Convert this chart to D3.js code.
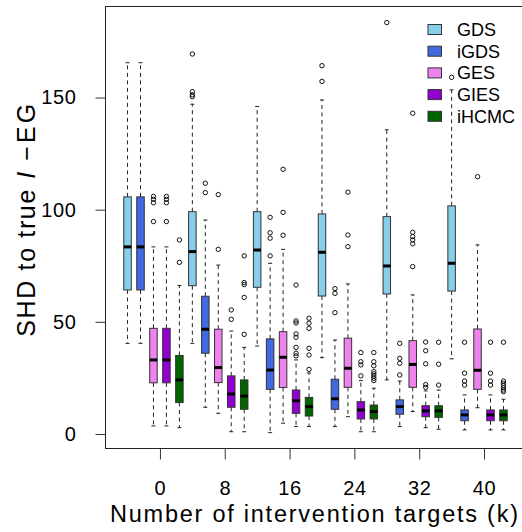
<!DOCTYPE html>
<html>
<head>
<meta charset="utf-8">
<script src="https://cdn.jsdelivr.net/npm/d3@7/dist/d3.min.js"></script>
<style>
  body { margin: 0; background: #fff; }
  svg { font-family: "Liberation Sans", Arial, sans-serif; }
</style>
</head>
<body>
<div id="chart"></div>
<script>
var methods = ["GDS", "iGDS", "GES", "GIES", "iHCMC"];
var kValues = [0, 8, 16, 24, 32, 40];
var yTicks  = [0, 50, 100, 150];

// box stats per k: [lower whisker, Q1, median, Q3, upper whisker]
var statsGDS = [
  [40.4, 64.2, 83.4, 105.7, 165.5],
  [40.4, 66.1, 81.3, 99.1, 147],
  [39.2, 65.4, 82, 99.1, 146],
  [34, 61.5, 81, 98.1, 148.9],
  [24.1, 62.4, 74.9, 96.9, 135.6],
  [33.5, 63.7, 76.1, 101.7, 153.4]
];
var statsIGDS = [
  [40.4, 64.2, 83.4, 105.7, 165.5],
  [11.9, 36, 46.7, 61.4, 95.4],
  [0.6, 19.9, 28.5, 42.4, 76.1],
  [3.3, 11, 15.7, 24.4, 41.9],
  [3.3, 8.8, 12.2, 15.2, 23.6],
  [1.8, 5.9, 8.5, 10.7, 17.4]
];
var statsGES = [
  [3.6, 22.8, 33, 47.1, 83.4],
  [9.2, 22.9, 29.6, 46.7, 75.3],
  [4.8, 20.7, 34.2, 45.6, 82.3],
  [7.7, 20.8, 29.3, 42.7, 66.9],
  [10, 20.8, 31, 41.6, 62],
  [11.7, 19.9, 28.4, 46.8, 84.3]
];
var statsGIES = [
  [3.6, 22.8, 33, 47.1, 83.4],
  [1, 11.9, 17.8, 25.9, 45.9],
  [3.3, 9.2, 14.8, 19.6, 33],
  [1, 6.7, 10.7, 14.4, 23.8],
  [2.8, 7.7, 10.3, 12.6, 19.2],
  [1.8, 5.9, 8.5, 10.7, 17.4]
];
var statsIHCMC = [
  [2.8, 14, 24.1, 35, 66.2],
  [1, 11, 16.9, 24.1, 38.6],
  [3.3, 8, 12.2, 16.3, 27.2],
  [1, 6.7, 10, 12.9, 20.4],
  [2.1, 7.4, 10.3, 12.6, 19.6],
  [1.8, 5.9, 8.5, 10.7, 15.5]
];

// outliers per k
var outGDS   = [[], [169.4, 152.6, 151.2, 150.4], [], [164.2, 157.2], [183.4], [159]];
var outIGDS  = [[], [111.8, 107.6], [96.6, 89.7, 87.3, 79.4], [64.8, 62.7, 54.1], [40.4, 33.7, 31.5, 26.3], [40.9, 27.1, 23.6, 21.8]];
var outGES   = [[105.9, 104.6, 103.1, 94.7], [106.7, 82.3], [118, 98.8, 88.6], [107.8, 88.7, 83.5], [143, 89.9, 88, 86.5, 84.8, 74.6], [114.7]];
var outGIES  = [[105.9, 104.6, 103.1, 94.7], [55.3, 51.1], [66.4, 50.4, 49.5, 44.6, 43.1, 38.6, 36, 34.8], [36.3, 32.2, 30.8, 25.9], [41, 37.1, 31.3, 22, 20.8], [40.9, 27.1, 23.6, 21.8]];
var outIHCMC = [[86.5, 76.5], [79.4, 67.5, 66.6, 60.9, 44.4], [51.6, 49.4, 47.1, 38.2, 35.2, 28.8], [36.3, 32.2, 30.4, 27.8, 26.8, 25.8, 24.8, 23.8], [40.9, 31.1, 21.8], [40.9, 23.6, 22.6, 21.6, 20.6, 19.6, 18.9]];

var fills = ["#87ceeb", "#4169e1", "#ee82ee", "#9400d3", "#006400"];

var allStats = [statsGDS, statsIGDS, statsGES, statsGIES, statsIHCMC];
var allOut   = [outGDS, outIGDS, outGES, outGIES, outIHCMC];

var width = 522, height = 532;
var boxW = 7.5;

var svg = d3.select("#chart").append("svg")
  .attr("width", width)
  .attr("height", height);

// box positions 1..30, R style xlim
var x = d3.scaleLinear().domain([-0.7, 31.7]).range([105.5, 525.5]);
var y = d3.scaleLinear().domain([-6.7, 190.8]).range([449, 6]);

var boxes = [];
kValues.forEach(function (k, g) {
  methods.forEach(function (m, i) {
    var s = allStats[i][g];
    boxes.push({
      pos: g * methods.length + i + 1,
      method: i,
      lo: s[0], q1: s[1], med: s[2], q3: s[3], hi: s[4],
      out: allOut[i][g]
    });
  });
});

var gb = svg.append("g").selectAll("g")
  .data(boxes)
  .join("g")
  .attr("transform", function (d) { return "translate(" + x(d.pos) + ",0)"; });

// whiskers
gb.append("line")
  .attr("y1", function (d) { return y(d.q3); })
  .attr("y2", function (d) { return y(d.hi); })
  .attr("stroke", "#222").attr("stroke-dasharray", "4,3.5");
gb.append("line")
  .attr("y1", function (d) { return y(d.q1); })
  .attr("y2", function (d) { return y(d.lo); })
  .attr("stroke", "#222").attr("stroke-dasharray", "4,3.5");
// staples
gb.append("line")
  .attr("x1", -2).attr("x2", 2)
  .attr("y1", function (d) { return y(d.hi); })
  .attr("y2", function (d) { return y(d.hi); })
  .attr("stroke", "#222");
gb.append("line")
  .attr("x1", -2).attr("x2", 2)
  .attr("y1", function (d) { return y(d.lo); })
  .attr("y2", function (d) { return y(d.lo); })
  .attr("stroke", "#222");
// boxes
gb.append("rect")
  .attr("x", -boxW / 2)
  .attr("width", boxW)
  .attr("y", function (d) { return y(d.q3); })
  .attr("height", function (d) { return y(d.q1) - y(d.q3); })
  .attr("fill", function (d) { return fills[d.method]; })
  .attr("stroke", "#333");
// medians
gb.append("line")
  .attr("x1", -boxW / 2).attr("x2", boxW / 2)
  .attr("y1", function (d) { return y(d.med); })
  .attr("y2", function (d) { return y(d.med); })
  .attr("stroke", "#000").attr("stroke-width", 3);
// outliers
gb.selectAll("circle")
  .data(function (d) { return d.out; })
  .join("circle")
  .attr("r", 2.2)
  .attr("cy", function (v) { return y(v); })
  .attr("fill", "none")
  .attr("stroke", "#111");

// frame
svg.append("rect")
  .attr("x", 105.5).attr("y", 6.5)
  .attr("width", 420).attr("height", 442)
  .attr("fill", "none").attr("stroke", "#222");

// axes
var yAxis = svg.append("g")
  .attr("transform", "translate(105.5,0)")
  .call(d3.axisLeft(y).tickValues(yTicks).tickSize(10).tickPadding(19));
var xAxis = svg.append("g")
  .attr("transform", "translate(0,448.5)")
  .call(d3.axisBottom(x)
    .tickValues(kValues.map(function (k, g) { return g * methods.length + 3.5; }))
    .tickFormat(function (d, i) { return kValues[i]; })
    .tickSize(11).tickPadding(21));
[yAxis, xAxis].forEach(function (a) {
  a.select(".domain").remove();
  a.selectAll(".tick line").attr("stroke", "#333");
  a.selectAll("text").attr("font-size", 20).attr("fill", "#000")
    .attr("letter-spacing", 0.6)
    .style("font-family", "'Liberation Sans', Arial, sans-serif");
});

// axis titles
svg.append("text")
  .attr("x", 314).attr("y", 521.5)
  .attr("text-anchor", "middle")
  .attr("font-size", 23.5)
  .attr("textLength", 408)
  .attr("lengthAdjust", "spacing")
  .text("Number of intervention targets (k)");

var yt = svg.append("g")
  .attr("transform", "translate(35,336.7) rotate(-90)")
  .attr("font-size", 25);
yt.append("text").attr("x", 0)
  .attr("textLength", 147).attr("lengthAdjust", "spacing")
  .text("SHD to true");
yt.append("text").attr("x", 158)
  .attr("font-style", "italic")
  .text("I");
yt.append("text").attr("x", 176)
  .attr("textLength", 57).attr("lengthAdjust", "spacing")
  .text("\u2212EG");

// legend
var lg = svg.append("g").selectAll("g")
  .data(methods)
  .join("g")
  .attr("transform", function (d, i) { return "translate(0," + (29.5 + i * 21.7) + ")"; });
lg.append("rect")
  .attr("x", 428).attr("y", -5)
  .attr("width", 13.5).attr("height", 10)
  .attr("fill", function (d, i) { return fills[i]; })
  .attr("stroke", "#333");
lg.append("text")
  .attr("x", 457).attr("y", 6.4)
  .attr("font-size", 18)
  .text(function (d) { return d; });
</script>
</body>
</html>
